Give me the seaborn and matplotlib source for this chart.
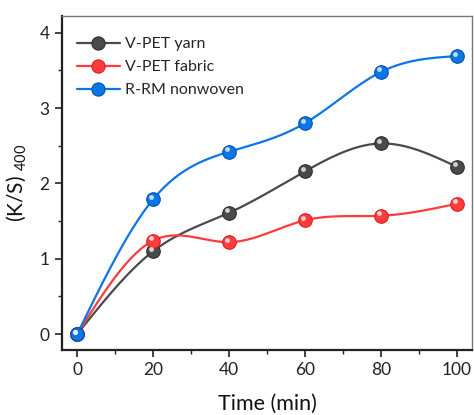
import numpy as np
import pandas as pd
import matplotlib
matplotlib.use("Agg")
import matplotlib.pyplot as plt
import matplotlib.transforms as mtrans
from matplotlib.lines import Line2D
from matplotlib.ticker import MultipleLocator
import seaborn as sns

time_min = [0, 20, 40, 60, 80, 100]
yarn = [0.0, 1.10, 1.61, 2.16, 2.53, 2.22]
fabric = [0.0, 1.24, 1.22, 1.51, 1.57, 1.73]
nonwoven = [0.0, 1.79, 2.42, 2.80, 3.48, 3.69]
series_names = ["V-PET yarn", "V-PET fabric", "R-RM nonwoven"]
series_vals = [yarn, fabric, nonwoven]
colors = ["#4a4a4a", "#ff3b3b", "#0b76e6"]
edge_colors = ["#2e2e2e", "#d81f1f", "#0550b0"]

sns.set_style("ticks")
plt.rcParams["font.family"] = ["Lato", "DejaVu Sans"]
plt.rcParams["mathtext.fontset"] = "custom"
plt.rcParams["mathtext.rm"] = "Lato"
plt.rcParams["mathtext.it"] = "Lato"


def natural_spline(x, y, n=30):
    x = np.asarray(x, float); y = np.asarray(y, float)
    k = len(x) - 1
    h = np.diff(x)
    A = np.zeros((k + 1, k + 1)); b = np.zeros(k + 1)
    A[0, 0] = 1; A[k, k] = 1
    for i in range(1, k):
        A[i, i - 1] = h[i - 1]; A[i, i] = 2 * (h[i - 1] + h[i]); A[i, i + 1] = h[i]
        b[i] = 3 * ((y[i + 1] - y[i]) / h[i] - (y[i] - y[i - 1]) / h[i - 1])
    c = np.linalg.solve(A, b)
    xs, ys = [], []
    for i in range(k):
        bi = (y[i + 1] - y[i]) / h[i] - h[i] * (2 * c[i] + c[i + 1]) / 3
        di = (c[i + 1] - c[i]) / (3 * h[i])
        t = np.linspace(0, h[i], n, endpoint=(i == k - 1))
        xs.extend(x[i] + t)
        ys.extend(y[i] + bi * t + c[i] * t ** 2 + di * t ** 3)
    return np.array(xs), np.array(ys)


fig = plt.figure(figsize=(4.74, 4.15), dpi=100)
ax = fig.add_axes([0.131, 0.157, 0.865, 0.804])

for name, vals, col, ec in zip(series_names, series_vals, colors, edge_colors):
    xs, ys = natural_spline(time_min, vals)
    curve = pd.DataFrame({"x": xs, "y": ys})
    sns.lineplot(data=curve, x="x", y="y", sort=False, estimator=None, color=col,
                 linewidth=1.6, ax=ax, zorder=2)
    pts = pd.DataFrame({"x": time_min, "y": vals})
    sns.scatterplot(data=pts, x="x", y="y", color=col, edgecolor=ec, linewidth=0.8,
                    s=95, ax=ax, zorder=3)
    hl = mtrans.offset_copy(ax.transData, fig=fig, x=-1.3, y=1.8, units="points")
    ax.scatter(time_min, vals, s=12, color="white", alpha=0.75, linewidths=0,
               transform=hl, zorder=4)

ax.set_xlim(-4, 104)
ax.set_ylim(-0.21, 4.22)
ax.set_xticks([0, 20, 40, 60, 80, 100])
ax.set_yticks([0, 1, 2, 3, 4])
ax.xaxis.set_minor_locator(MultipleLocator(10))
ax.yaxis.set_minor_locator(MultipleLocator(0.5))
ax.tick_params(which="major", direction="out", length=5, width=1.2, labelsize=12.5,
               colors="#222222", pad=4)
ax.tick_params(which="minor", direction="out", length=3, width=1.0, colors="#222222")
ax.tick_params(top=False, right=False)
for side, sp in ax.spines.items():
    sp.set_visible(True)
    sp.set_color("#222222" if side in ("left", "bottom") else "#777777")
    sp.set_linewidth(1.6 if side in ("left", "bottom") else 1.0)

ax.set_xlabel("Time (min)", fontsize=15.5, labelpad=11, color="#111111")
ax.set_ylabel(r"(K/S) $_{400}$", fontsize=15, labelpad=8, color="#111111")

handles = [Line2D([0], [0], color=c, lw=1.6, marker="o", markersize=9.5,
                  markerfacecolor=c, markeredgecolor=ec, markeredgewidth=0.8)
           for c, ec in zip(colors, edge_colors)]
ax.legend(handles, series_names, loc="upper left", frameon=False, fontsize=11.5,
          handlelength=2.7, handletextpad=0.3, labelspacing=0.55,
          borderaxespad=0.4, bbox_to_anchor=(0.005, 0.975))

fig.savefig("out.png", dpi=100)
